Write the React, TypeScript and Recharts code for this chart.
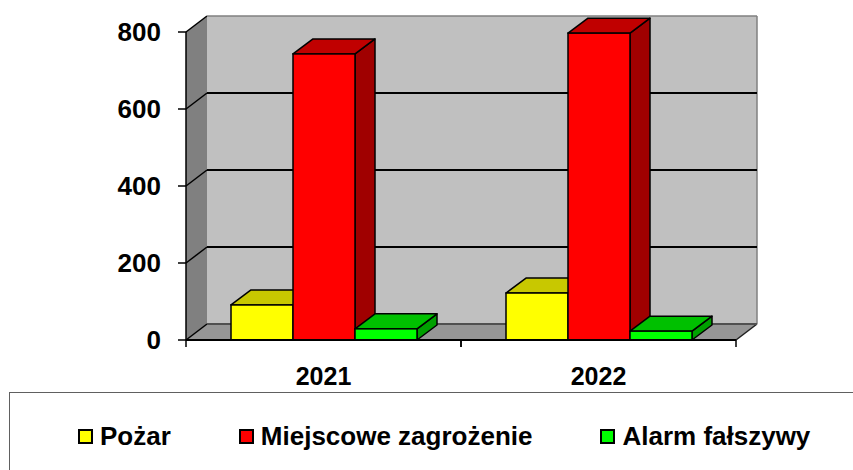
import {
  Bar,
  BarChart,
  CartesianGrid,
  Legend,
  ReferenceArea,
  XAxis,
  YAxis,
} from "recharts";

const years = ["2021", "2022"];
const pozar = [91, 122];
const miejscowe = [743, 797];
const alarm = [29, 23];
const yTicks = [0, 200, 400, 600, 800];

const series = [
  { key: "pozar", name: "Pożar", front: "#FFFF00", top: "#C8C800", side: "#A0A000" },
  { key: "miejscowe", name: "Miejscowe zagrożenie", front: "#FF0000", top: "#C00000", side: "#A00000" },
  { key: "alarm", name: "Alarm fałszywy", front: "#00FF00", top: "#00C000", side: "#00A000" },
];

const data = years.map((year, i) => ({
  year,
  pozar: pozar[i],
  miejscowe: miejscowe[i],
  alarm: alarm[i],
}));

const FONT = "'Liberation Sans', Arial, sans-serif";
// depth of the walls and of the bars
const WX = 21;
const WY = 16;
const DX = 20;
const DY = 15;

const Walls = (p: any) => {
  const { x, y, width: w, height: h } = p;
  const b = y + h;
  return (
    <g>
      <rect x={x + WX} y={y - WY} width={w} height={h} fill="#C0C0C0" />
      <polygon
        points={`${x},${y} ${x + WX},${y - WY} ${x + WX},${b - WY} ${x},${b}`}
        fill="#808080"
      />
      <polygon
        points={`${x},${b} ${x + WX},${b - WY} ${x + w + WX},${b - WY} ${x + w},${b}`}
        fill="#969696"
      />
      <line x1={x + w + WX} y1={y - WY} x2={x + w + WX} y2={b - WY} stroke="#808080" strokeWidth={1.5} />
      <line x1={x + w} y1={b} x2={x + w + WX} y2={b - WY} stroke="#202020" strokeWidth={1.5} />
    </g>
  );
};

const gridLine = (p: any) => {
  const { x1, y1, x2, index } = p;
  const isTop = Math.abs(y1 - p.y) < 1;
  const isBottom = Math.abs(y1 - (p.y + p.height)) < 1;
  return (
    <g key={`grid-${index}`}>
      <line x1={x1} y1={y1} x2={x1 + WX} y2={y1 - WY} stroke="#000" strokeWidth={1.5} />
      <line
        x1={x1 + WX}
        y1={y1 - WY}
        x2={x2 + WX}
        y2={y1 - WY}
        stroke={isTop ? "#808080" : isBottom ? "#505050" : "#000"}
        strokeWidth={isTop ? 1.5 : 2}
      />
    </g>
  );
};

const makeBarShape = (s: any) => (p: any) => {
  const { x, y, width, height } = p;
  if (width == null || height == null) return null;
  const b = y + height;
  const r = x + width;
  return (
    <g>
      <polygon
        points={`${r},${y} ${r + DX},${y - DY} ${r + DX},${b - DY} ${r},${b}`}
        fill={s.side}
        stroke="#000"
        strokeWidth={1.5}
        strokeLinejoin="round"
      />
      <polygon
        points={`${x},${y} ${x + DX},${y - DY} ${r + DX},${y - DY} ${r},${y}`}
        fill={s.top}
        stroke="#000"
        strokeWidth={1.5}
        strokeLinejoin="round"
      />
      <rect x={x} y={y} width={width} height={height} fill={s.front} stroke="#000" strokeWidth={1.5} />
    </g>
  );
};

const YearTick = (p: any) => {
  const { x, y, payload } = p;
  const off = payload?.offset ?? 137.5;
  return (
    <g>
      <line x1={x - off} y1={y} x2={x - off} y2={y + 7} stroke="#000" strokeWidth={1.5} />
      <line x1={x + off} y1={y} x2={x + off} y2={y + 7} stroke="#000" strokeWidth={1.5} />
      <text x={x} y={y + 45} textAnchor="middle" fontFamily={FONT} fontWeight="bold" fontSize={25} fill="#000">
        {payload.value}
      </text>
    </g>
  );
};

const LegendBox = () => (
  <div
    style={{
      display: "flex",
      alignItems: "center",
      gap: 68,
      paddingLeft: 68,
      paddingTop: 28,
      fontFamily: FONT,
      fontWeight: "bold",
      fontSize: 26,
      color: "#000",
    }}
  >
    {series.map((s) => (
      <div key={s.key} style={{ display: "flex", alignItems: "center", gap: 7, whiteSpace: "nowrap" }}>
        <span
          style={{
            display: "inline-block",
            width: 11,
            height: 11,
            background: s.front,
            border: "2px solid #000",
          }}
        />
        <span style={{ lineHeight: "30px" }}>{s.name}</span>
      </div>
    ))}
  </div>
);

export default function App() {
  return (
    <div style={{ position: "absolute", left: 0, top: 0, width: 853, height: 470, background: "#fff", overflow: "hidden" }}>
      <BarChart
        width={853}
        height={470}
        data={data}
        margin={{ top: 32, right: 117, bottom: 90, left: 0 }}
        barCategoryGap={45}
        barGap={0}
      >
        <ReferenceArea y1={0} y2={800} shape={Walls} ifOverflow="visible" zIndex={-200} />
        <CartesianGrid vertical={false} horizontal={gridLine} zIndex={-150} />
        <XAxis
          dataKey="year"
          height={40}
          tickLine={false}
          tickSize={0}
          tickMargin={0}
          axisLine={{ stroke: "#000", strokeWidth: 2 }}
          tick={<YearTick />}
          interval={0}
        />
        <YAxis
          width={186}
          domain={[0, 800]}
          ticks={yTicks}
          tickSize={8}
          tickMargin={17}
          axisLine={{ stroke: "#000", strokeWidth: 1.5 }}
          tickLine={{ stroke: "#000", strokeWidth: 1.5 }}
          tick={{ fill: "#000", fontSize: 26, fontWeight: "bold", fontFamily: FONT }}
        />
        {series.map((s) => (
          <Bar key={s.key} dataKey={s.key} name={s.name} isAnimationActive={false} shape={makeBarShape(s)} />
        ))}
        <Legend
          layout="horizontal"
          verticalAlign="middle"
          align="center"
          content={<LegendBox />}
          wrapperStyle={{
            left: 9,
            top: 392,
            width: 880,
            height: 120,
            border: "1px solid #606060",
            boxSizing: "border-box",
          }}
        />
      </BarChart>
    </div>
  );
}
